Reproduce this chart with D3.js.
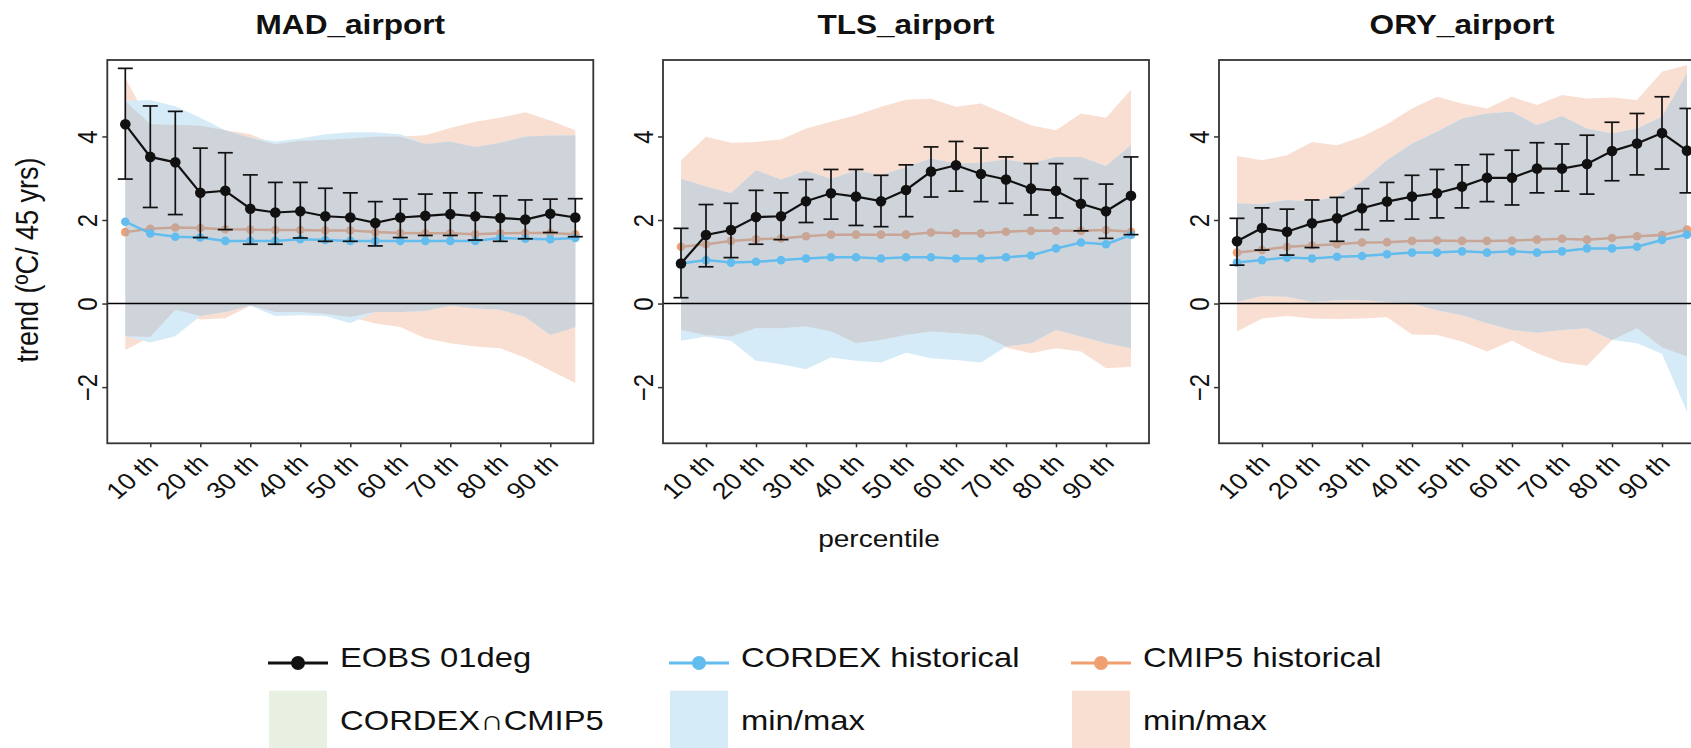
<!DOCTYPE html>
<html>
<head>
<meta charset="utf-8">
<script src="https://cdn.jsdelivr.net/npm/d3@7"></script>
<style>
  html, body { margin: 0; padding: 0; background: #fff; overflow: hidden; }
  svg { display: block; font-family: "Liberation Sans", Arial, sans-serif; }
</style>
</head>
<body>
<svg id="chart" width="1691" height="748"></svg>
<script>
// ---------------- DATA ----------------
const percentiles = [5, 10, 15, 20, 25, 30, 35, 40, 45, 50, 55, 60, 65, 70, 75, 80, 85, 90, 95];
const tickValues = [10, 20, 30, 40, 50, 60, 70, 80, 90];
const tickLabels = ["10 th", "20 th", "30 th", "40 th", "50 th", "60 th", "70 th", "80 th", "90 th"];
const yTicks = [-2, 0, 2, 4];
const stations = ["MAD_airport", "TLS_airport", "ORY_airport"];

// MAD_airport
const mad_eobs    = [4.29, 3.51, 3.38, 2.65, 2.70, 2.27, 2.18, 2.21, 2.09, 2.06, 1.93, 2.06, 2.10, 2.14, 2.09, 2.05, 2.01, 2.15, 2.06];
const mad_eobs_lo = [2.98, 2.30, 2.13, 1.58, 1.77, 1.42, 1.42, 1.57, 1.49, 1.49, 1.38, 1.58, 1.63, 1.63, 1.52, 1.49, 1.55, 1.70, 1.60];
const mad_eobs_hi = [5.63, 4.73, 4.60, 3.72, 3.61, 3.08, 2.90, 2.90, 2.76, 2.65, 2.44, 2.50, 2.62, 2.65, 2.65, 2.58, 2.48, 2.50, 2.51];
const mad_cordex  = [1.96, 1.68, 1.60, 1.58, 1.50, 1.50, 1.50, 1.54, 1.52, 1.50, 1.50, 1.50, 1.50, 1.50, 1.50, 1.57, 1.55, 1.54, 1.57];
const mad_cmip5   = [1.71, 1.79, 1.82, 1.81, 1.78, 1.77, 1.76, 1.76, 1.75, 1.75, 1.71, 1.69, 1.68, 1.68, 1.66, 1.68, 1.69, 1.69, 1.66];
const mad_cordex_min = [-0.78, -0.93, -0.78, -0.30, -0.20, -0.05, -0.30, -0.28, -0.30, -0.47, -0.20, -0.20, -0.18, -0.05, -0.12, -0.15, -0.32, -0.75, -0.57];
const mad_cordex_max = [4.85, 4.87, 4.72, 4.45, 4.15, 3.97, 3.88, 3.95, 4.05, 4.10, 4.10, 4.05, 3.82, 3.88, 3.75, 3.85, 4.00, 4.02, 4.03];
const mad_cmip5_min  = [-1.11, -0.80, -0.15, -0.38, -0.35, -0.05, -0.20, -0.20, -0.25, -0.32, -0.48, -0.56, -0.83, -0.95, -1.03, -1.07, -1.30, -1.60, -1.90];
const mad_cmip5_max  = [5.40, 4.30, 4.28, 4.26, 4.15, 4.05, 3.82, 3.90, 3.92, 3.95, 4.00, 4.00, 4.03, 4.20, 4.35, 4.45, 4.58, 4.38, 4.15];

// TLS_airport
const tls_eobs    = [0.96, 1.64, 1.76, 2.07, 2.09, 2.45, 2.64, 2.56, 2.45, 2.72, 3.16, 3.31, 3.10, 2.97, 2.75, 2.70, 2.39, 2.21, 2.58];
const tls_eobs_lo = [0.14, 0.88, 1.10, 1.42, 1.53, 1.94, 2.02, 1.87, 1.84, 2.08, 2.55, 2.69, 2.44, 2.40, 2.12, 2.05, 1.74, 1.56, 1.65];
const tls_eobs_hi = [1.80, 2.37, 2.40, 2.71, 2.65, 2.97, 3.21, 3.21, 3.07, 3.32, 3.75, 3.88, 3.72, 3.51, 3.35, 3.35, 2.99, 2.86, 3.51];
const tls_cordex  = [0.96, 1.04, 0.98, 1.00, 1.04, 1.08, 1.11, 1.11, 1.08, 1.11, 1.11, 1.08, 1.08, 1.11, 1.15, 1.32, 1.46, 1.42, 1.64];
const tls_cmip5   = [1.36, 1.42, 1.50, 1.54, 1.56, 1.61, 1.65, 1.65, 1.65, 1.65, 1.70, 1.68, 1.68, 1.72, 1.74, 1.74, 1.74, 1.76, 1.72];
const tls_cordex_min = [-0.89, -0.79, -0.89, -1.37, -1.45, -1.57, -1.29, -1.37, -1.41, -1.18, -1.31, -1.35, -1.41, -1.03, -0.95, -0.63, -0.79, -0.95, -1.07];
const tls_cordex_max = [2.99, 2.80, 2.64, 3.19, 2.97, 3.18, 2.99, 3.19, 3.07, 3.27, 3.47, 3.35, 3.37, 3.45, 3.35, 3.51, 3.51, 3.29, 3.79];
const tls_cmip5_min  = [-0.63, -0.76, -0.79, -0.59, -0.59, -0.55, -0.67, -0.95, -0.87, -0.75, -0.67, -0.71, -0.75, -1.05, -1.19, -1.07, -1.15, -1.55, -1.51];
const tls_cmip5_max  = [3.43, 3.99, 3.85, 3.87, 3.93, 4.19, 4.35, 4.51, 4.71, 4.88, 4.90, 4.71, 4.79, 4.53, 4.27, 4.15, 4.55, 4.45, 5.12];

// ORY_airport
const ory_eobs    = [1.49, 1.81, 1.72, 1.92, 2.04, 2.28, 2.44, 2.56, 2.64, 2.80, 3.01, 3.01, 3.23, 3.23, 3.34, 3.65, 3.83, 4.08, 3.66];
const ory_eobs_lo = [0.92, 1.28, 1.16, 1.34, 1.49, 1.77, 1.98, 2.02, 2.05, 2.29, 2.44, 2.36, 2.65, 2.69, 2.62, 2.94, 3.08, 3.22, 2.65];
const ory_eobs_hi = [2.04, 2.29, 2.26, 2.48, 2.54, 2.75, 2.90, 3.07, 3.21, 3.32, 3.57, 3.67, 3.85, 3.82, 4.03, 4.34, 4.55, 4.95, 4.67];
const ory_cordex  = [0.98, 1.04, 1.10, 1.08, 1.12, 1.14, 1.18, 1.22, 1.22, 1.25, 1.22, 1.25, 1.22, 1.25, 1.32, 1.32, 1.36, 1.52, 1.65];
const ory_cmip5   = [1.22, 1.28, 1.36, 1.39, 1.42, 1.46, 1.47, 1.50, 1.51, 1.50, 1.50, 1.51, 1.53, 1.55, 1.53, 1.57, 1.61, 1.64, 1.77];
const ory_cordex_min = [0.04, 0.18, 0.16, 0.04, 0.08, 0.08, 0.04, 0.00, -0.16, -0.28, -0.47, -0.63, -0.70, -0.63, -0.59, -0.87, -0.95, -1.20, -2.59];
const ory_cordex_max = [2.40, 2.38, 2.48, 2.44, 2.56, 2.92, 3.43, 3.83, 4.11, 4.43, 4.55, 4.59, 4.27, 4.49, 4.19, 4.07, 4.19, 4.47, 5.51];
const ory_cmip5_min  = [-0.67, -0.36, -0.30, -0.36, -0.37, -0.36, -0.33, -0.74, -0.75, -0.91, -1.15, -0.89, -1.19, -1.41, -1.49, -0.87, -0.59, -1.05, -1.27];
const ory_cmip5_max  = [3.53, 3.43, 3.55, 3.87, 3.79, 3.99, 4.29, 4.67, 4.95, 4.79, 4.67, 4.95, 4.75, 4.99, 4.91, 4.93, 4.87, 5.55, 5.71];

const legendLabels = ["EOBS 01deg", "CORDEX historical", "CMIP5 historical", "CORDEX\u2229CMIP5", "min/max", "min/max"];

// ---------------- STYLE / LAYOUT ----------------
const S = 1.17;               // horizontal text stretch seen in the reference
const FONT = '"Liberation Sans", Arial, sans-serif';
const C = {
  eobs: "#111111",
  cordex: "#62bdee",
  cmip5: "#f0a070",
  cordexBand: "#d5ebf8",
  cmip5Band: "#f9dfd2",
  overlap: "rgba(160,170,183,0.5)",
  legendOverlap: "#e8f0e2",
  frame: "#333333"
};
const panelTop = 60, panelBottom = 443.3, panelW = 486;
const panelLefts = [107.3, 663, 1219];

const datasets = [
  {eobs: mad_eobs, lo: mad_eobs_lo, hi: mad_eobs_hi, cordex: mad_cordex, cmip5: mad_cmip5,
   cmin: mad_cordex_min, cmax: mad_cordex_max, pmin: mad_cmip5_min, pmax: mad_cmip5_max},
  {eobs: tls_eobs, lo: tls_eobs_lo, hi: tls_eobs_hi, cordex: tls_cordex, cmip5: tls_cmip5,
   cmin: tls_cordex_min, cmax: tls_cordex_max, pmin: tls_cmip5_min, pmax: tls_cmip5_max},
  {eobs: ory_eobs, lo: ory_eobs_lo, hi: ory_eobs_hi, cordex: ory_cordex, cmip5: ory_cmip5,
   cmin: ory_cordex_min, cmax: ory_cordex_max, pmin: ory_cmip5_min, pmax: ory_cmip5_max}
];

const svg = d3.select("#chart");
const y = d3.scaleLinear().domain([-3.345, 5.83]).range([panelBottom, panelTop]);

datasets.forEach((ds, k) => {
  const left = panelLefts[k];
  const x = d3.scaleLinear().domain([1.4, 98.6]).range([left, left + panelW]);
  const g = svg.append("g");

  const rows = percentiles.map((p, i) => ({
    p, e: ds.eobs[i], lo: ds.lo[i], hi: ds.hi[i], c: ds.cordex[i], m: ds.cmip5[i],
    cmin: ds.cmin[i], cmax: ds.cmax[i], pmin: ds.pmin[i], pmax: ds.pmax[i],
    imin: Math.max(ds.cmin[i], ds.pmin[i]), imax: Math.min(ds.cmax[i], ds.pmax[i])
  }));

  const area = (a, b) => d3.area().x(d => x(d.p)).y0(d => y(d[a])).y1(d => y(d[b]));
  const line = key => d3.line().x(d => x(d.p)).y(d => y(d[key]));

  // bands
  g.append("path").datum(rows).attr("d", area("pmin", "pmax")).attr("fill", C.cmip5Band);
  g.append("path").datum(rows).attr("d", area("cmin", "cmax")).attr("fill", C.cordexBand);
  g.append("path").datum(rows).attr("d", area("imin", "imax")).attr("fill", "#fff");

  // CMIP5 line (below the translucent overlap)
  g.append("path").datum(rows).attr("d", line("m")).attr("fill", "none")
    .attr("stroke", C.cmip5).attr("stroke-width", 2.5);
  g.selectAll(".pm").data(rows).join("circle")
    .attr("cx", d => x(d.p)).attr("cy", d => y(d.m)).attr("r", 4.3).attr("fill", C.cmip5);

  // overlap
  g.append("path").datum(rows).attr("d", area("imin", "imax")).attr("fill", C.overlap);

  // CORDEX line
  g.append("path").datum(rows).attr("d", line("c")).attr("fill", "none")
    .attr("stroke", C.cordex).attr("stroke-width", 2.5);
  g.selectAll(".pc").data(rows).join("circle")
    .attr("cx", d => x(d.p)).attr("cy", d => y(d.c)).attr("r", 4.3).attr("fill", C.cordex);

  // zero line
  g.append("line").attr("x1", x.range()[0]).attr("x2", x.range()[1])
    .attr("y1", y(0)).attr("y2", y(0)).attr("stroke", "#000").attr("stroke-width", 1.5);

  // EOBS error bars
  const cap = 7.5;
  const eb = g.append("g").attr("stroke", C.eobs).attr("stroke-width", 1.7);
  rows.forEach(d => {
    eb.append("line").attr("x1", x(d.p)).attr("x2", x(d.p)).attr("y1", y(d.lo)).attr("y2", y(d.hi));
    eb.append("line").attr("x1", x(d.p) - cap).attr("x2", x(d.p) + cap).attr("y1", y(d.lo)).attr("y2", y(d.lo));
    eb.append("line").attr("x1", x(d.p) - cap).attr("x2", x(d.p) + cap).attr("y1", y(d.hi)).attr("y2", y(d.hi));
  });
  g.append("path").datum(rows).attr("d", line("e")).attr("fill", "none")
    .attr("stroke", C.eobs).attr("stroke-width", 2.2);
  g.selectAll(".pe").data(rows).join("circle")
    .attr("cx", d => x(d.p)).attr("cy", d => y(d.e)).attr("r", 5.3).attr("fill", C.eobs);

  // frame
  g.append("rect").attr("x", left).attr("y", panelTop).attr("width", panelW)
    .attr("height", panelBottom - panelTop).attr("fill", "none")
    .attr("stroke", C.frame).attr("stroke-width", 1.8);

  // y axis
  const ya = g.append("g").attr("transform", `translate(${left},0)`)
    .call(d3.axisLeft(y).tickValues(yTicks).tickSize(5).tickFormat(d => d < 0 ? "\u2212" + Math.abs(d) : String(d)));
  ya.select(".domain").remove();
  ya.selectAll(".tick line").attr("stroke", C.frame).attr("stroke-width", 1.5);
  ya.selectAll(".tick text")
    .attr("x", null).attr("dy", null)
    .attr("transform", "translate(-10,0) scale(" + S + ",1) rotate(-90)")
    .attr("text-anchor", "middle").attr("fill", "#111")
    .style("font-size", "24px").style("font-family", FONT);

  // x axis
  const xa = g.append("g").attr("transform", `translate(0,${panelBottom})`)
    .call(d3.axisBottom(x).tickValues(tickValues).tickSize(4).tickFormat((d, i) => tickLabels[i]));
  xa.select(".domain").remove();
  xa.selectAll(".tick line").attr("stroke", C.frame).attr("stroke-width", 1.5);
  xa.selectAll(".tick text")
    .attr("y", null).attr("dy", null)
    .attr("transform", "translate(9,21) scale(" + S + ",1) rotate(-45)")
    .attr("text-anchor", "end").attr("fill", "#111")
    .style("font-size", "23px").style("font-family", FONT);

  // title
  g.append("text").attr("transform", `translate(${left + panelW / 2},33.5) scale(${S},1)`)
    .attr("text-anchor", "middle").attr("font-weight", "bold")
    .style("font-size", "27px").style("font-family", FONT).attr("fill", "#111")
    .text(stations[k]);
});

// axis titles
svg.append("text").attr("transform", `translate(38,260) scale(${S},1) rotate(-90)`)
  .attr("text-anchor", "middle").style("font-size", "27px").style("font-family", FONT).attr("fill", "#111")
  .text("trend (\u00baC/ 45 yrs)");
svg.append("text").attr("transform", `translate(879,546.7) scale(${S},1)`)
  .attr("text-anchor", "middle").style("font-size", "24px").style("font-family", FONT).attr("fill", "#111")
  .text("percentile");

// legend
const legX = [268, 669, 1071];
const legLineColors = [C.eobs, C.cordex, C.cmip5];
const legRectColors = [C.legendOverlap, C.cordexBand, C.cmip5Band];
const lg = svg.append("g");
legX.forEach((x0, i) => {
  lg.append("line").attr("x1", x0).attr("x2", x0 + 60).attr("y1", 663).attr("y2", 663)
    .attr("stroke", legLineColors[i]).attr("stroke-width", 3);
  lg.append("circle").attr("cx", x0 + 30).attr("cy", 663).attr("r", 7).attr("fill", legLineColors[i]);
  lg.append("text").attr("transform", `translate(${x0 + 72},666.7) scale(${S},1)`)
    .style("font-size", "28px").style("font-family", FONT).attr("fill", "#111")
    .text(legendLabels[i]);
  lg.append("rect").attr("x", x0 + 1).attr("y", 690.7).attr("width", 58).attr("height", 62)
    .attr("fill", legRectColors[i]);
  lg.append("text").attr("transform", `translate(${x0 + 72},729.5) scale(${S},1)`)
    .style("font-size", "28px").style("font-family", FONT).attr("fill", "#111")
    .text(legendLabels[i + 3]);
});
</script>
</body>
</html>
